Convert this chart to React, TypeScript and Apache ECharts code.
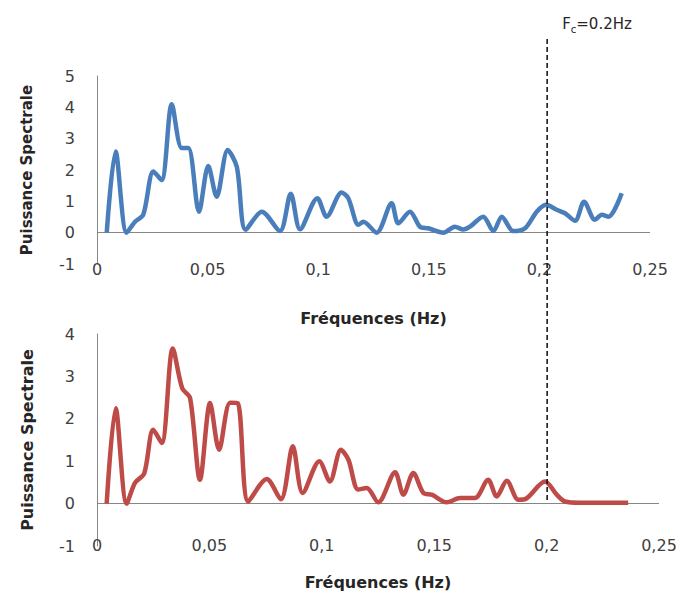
import React, { useEffect, useRef } from "react";
import * as echarts from "echarts";

// ---- Data ----
const freqTop = [
  0.0044, 0.0084, 0.0134, 0.0172, 0.0209, 0.0255, 0.0292, 0.0338, 0.0383, 0.0413,
  0.0461, 0.0503, 0.0541, 0.0591, 0.0632, 0.0672, 0.0745, 0.0827, 0.0876, 0.0918,
  0.0996, 0.1038, 0.1106, 0.1136, 0.1182, 0.1204, 0.1264, 0.1332, 0.1362, 0.1415,
  0.146, 0.1498, 0.1566, 0.1618, 0.1656, 0.1686, 0.1746, 0.1792, 0.183, 0.1882,
  0.1935, 0.1988, 0.203, 0.2078, 0.2116, 0.2161, 0.2202, 0.2251, 0.2282, 0.2312,
  0.2372,
];
const powerTop = [
  0, 2.59, 0, 0.35, 0.57, 1.95, 1.68, 4.1, 2.7, 2.7,
  0.67, 2.13, 1.15, 2.64, 2.1, 0.09, 0.67, 0.05, 1.24, 0.11,
  1.1, 0.51, 1.28, 1.1, 0.25, 0.35, 0, 0.94, 0.3, 0.67,
  0.19, 0.14, 0, 0.19, 0.1, 0.19, 0.51, 0.05, 0.51, 0.05,
  0.14, 0.67, 0.89, 0.73, 0.62, 0.38, 0.99, 0.41, 0.57, 0.51,
  1.26,
];

const freqBottom = [
  0.0043, 0.0083, 0.0132, 0.0169, 0.021, 0.025, 0.0288, 0.0337, 0.0379, 0.0414,
  0.0458, 0.0503, 0.0543, 0.0592, 0.0626, 0.0673, 0.0755, 0.0818, 0.0871, 0.0915,
  0.0989, 0.1036, 0.1085, 0.1118, 0.1162, 0.12, 0.1251, 0.1326, 0.1363, 0.1407,
  0.1452, 0.1489, 0.1556, 0.1615, 0.1681, 0.174, 0.1778, 0.1823, 0.1874, 0.191,
  0.1993, 0.2045, 0.2082, 0.215, 0.225, 0.2363,
];
const powerBottom = [
  0, 2.25, 0, 0.49, 0.71, 1.74, 1.43, 3.66, 2.72, 2.49,
  0.56, 2.37, 1.27, 2.38, 2.37, 0.05, 0.58, 0.1, 1.35, 0.25,
  1.0, 0.52, 1.27, 1.04, 0.33, 0.37, 0.03, 0.74, 0.21, 0.72,
  0.25, 0.21, 0.03, 0.13, 0.13, 0.56, 0.17, 0.54, 0.09, 0.12,
  0.52, 0.21, 0.05, 0.02, 0.02, 0.02,
];

const xTickValues = [0, 0.05, 0.1, 0.15, 0.2, 0.25];
const xTickLabels = ["0", "0,05", "0,1", "0,15", "0,2", "0,25"];
const yTickLabelsTop = ["-1", "0", "1", "2", "3", "4", "5"];
const yTickLabelsBottom = ["-1", "0", "1", "2", "3", "4"];

const cutoffFreq = 0.2035; // dashed marker position (Fc)
const cutoffLabel = "=0.2Hz";

const xAxisName = "Fréquences (Hz)";
const yAxisName = "Puissance Spectrale";

const BLUE = "#4a7ebb";
const RED = "#be4b48";
const AXIS = "#868686";
const TEXT = "#404040";
const FONT = "DejaVu Sans";

function xLabel(v: number) {
  let best = 0;
  for (let i = 0; i < xTickValues.length; i++) {
    if (Math.abs(xTickValues[i] - v) < Math.abs(xTickValues[best] - v)) best = i;
  }
  return xTickLabels[best];
}

function makeXAxis(gridIndex: number, labelMargin: number, nameGap: number) {
  return {
    gridIndex,
    type: "value",
    min: 0,
    max: 0.25,
    interval: 0.05,
    axisLine: { show: false, onZero: false },
    axisTick: { show: false },
    splitLine: { show: false },
    axisLabel: {
      margin: labelMargin,
      color: TEXT,
      fontSize: 16,
      fontFamily: FONT,
      formatter: (v: number) => xLabel(v),
    },
    name: xAxisName,
    nameLocation: "middle",
    nameGap,
    nameTextStyle: { fontWeight: "bold", fontSize: 16, color: "#262626", fontFamily: FONT },
  };
}

function makeYAxis(gridIndex: number, max: number, labels: string[], nameSize: number, nameGap: number) {
  return {
    gridIndex,
    type: "value",
    min: -1,
    max,
    interval: 1,
    axisLine: { show: true, onZero: false, lineStyle: { color: AXIS, width: 1 } },
    axisTick: { show: false },
    splitLine: { show: false },
    axisLabel: {
      margin: 22,
      color: TEXT,
      fontSize: 16,
      fontFamily: FONT,
      formatter: (v: number) => labels[Math.round(v) + 1] ?? "",
    },
    name: yAxisName,
    nameLocation: "middle",
    nameGap,
    nameRotate: 90,
    nameTextStyle: { fontWeight: "bold", fontSize: nameSize, color: "#262626", fontFamily: FONT },
  };
}

function zeroLine() {
  return {
    silent: true,
    symbol: ["none", "none"],
    label: { show: false },
    lineStyle: { color: AXIS, width: 1, type: "solid" },
    z: 1,
    data: [{ yAxis: 0 }],
  };
}

export default function App() {
  const ref = useRef<HTMLDivElement>(null);

  useEffect(() => {
    if (!ref.current) return;
    const chart = echarts.init(ref.current, null, { renderer: "svg" });
    const topData = freqTop.map((f, i) => [f, powerTop[i]]);
    const bottomData = freqBottom.map((f, i) => [f, powerBottom[i]]);

    chart.setOption({
      animation: false,
      backgroundColor: "#ffffff",
      grid: [
        { left: 97, top: 76, width: 553, height: 188 },
        { left: 97, top: 334, width: 562, height: 212 },
      ],
      xAxis: [makeXAxis(0, -3, 46), makeXAxis(1, -9, 28)],
      yAxis: [
        makeYAxis(0, 5, yTickLabelsTop, 15, 63),
        makeYAxis(1, 4, yTickLabelsBottom, 16, 62),
      ],
      series: [
        {
          type: "line",
          xAxisIndex: 0,
          yAxisIndex: 0,
          data: topData,
          smooth: 0.3,
          showSymbol: false,
          symbol: "none",
          z: 3,
          lineStyle: { color: BLUE, width: 4.5 },
          itemStyle: { color: BLUE },
          markLine: zeroLine(),
        },
        {
          type: "line",
          xAxisIndex: 1,
          yAxisIndex: 1,
          data: bottomData,
          smooth: 0.3,
          showSymbol: false,
          symbol: "none",
          z: 3,
          lineStyle: { color: RED, width: 4.5 },
          itemStyle: { color: RED },
          markLine: zeroLine(),
        },
      ],
    });

    const px = chart.convertToPixel({ xAxisIndex: 0 }, cutoffFreq) as number;
    chart.setOption({
      graphic: [
        {
          type: "line",
          z: 10,
          shape: { x1: px, y1: 39, x2: px, y2: 500 },
          style: { stroke: "#1a1a1a", lineWidth: 1.6, lineDash: [5, 3] },
        },
        {
          type: "text",
          z: 10,
          x: px + 15,
          y: 14,
          style: {
            text: "{a|F}{b|c}{a|" + cutoffLabel + "}",
            rich: {
              a: { fontSize: 15, fontFamily: FONT, fill: "#262626", lineHeight: 20, verticalAlign: "middle" },
              b: { fontSize: 10, fontFamily: FONT, fill: "#262626", lineHeight: 20, verticalAlign: "bottom", padding: [6, 0, 0, 0] },
            },
          },
        },
      ],
    });

    return () => chart.dispose();
  }, []);

  return (
    <div
      ref={ref}
      style={{ position: "fixed", left: 0, top: 0, width: 681, height: 599 }}
    />
  );
}
